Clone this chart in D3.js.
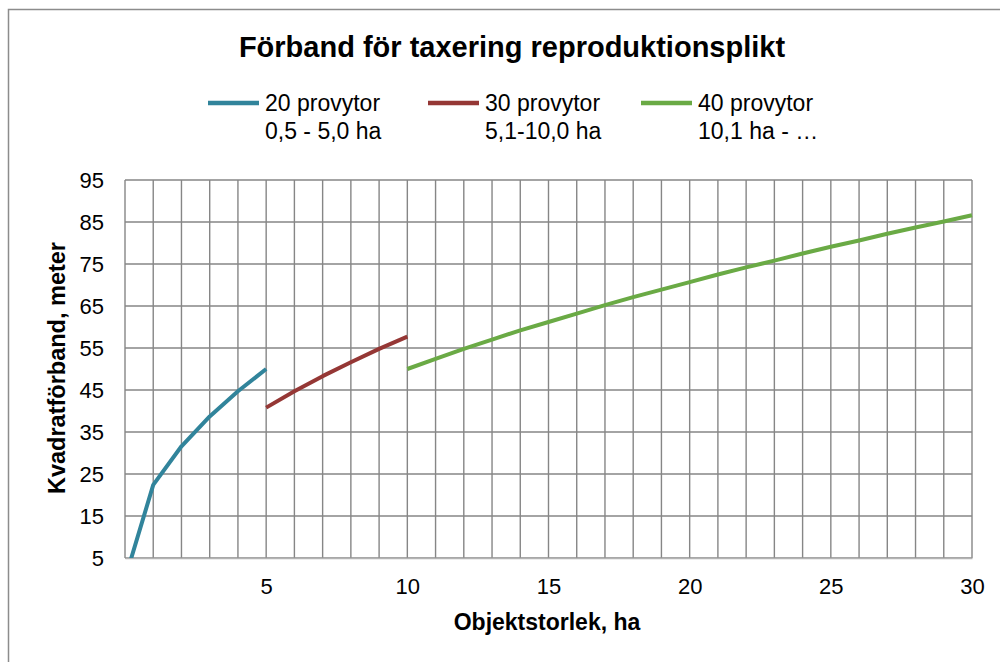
<!DOCTYPE html>
<html>
<head>
<meta charset="utf-8">
<script src="https://cdn.jsdelivr.net/npm/d3@7"></script>
<style>
  body { margin: 0; background: #fff; }
  svg { display: block; font-family: "Liberation Sans", Arial, sans-serif; }
</style>
</head>
<body>
<svg id="chart" width="1000" height="662"></svg>
<script>
// values
const blueX = [0, 1, 2, 3, 4, 5];
const blueY = [0, 22.4, 31.6, 38.7, 44.7, 50.0];
const redX = [5, 6, 7, 8, 9, 10];
const redY = [40.8, 44.7, 48.3, 51.6, 54.8, 57.7];
const greenX = [10, 11, 12, 13, 14, 15, 16, 17, 18, 19, 20, 21, 22, 23, 24, 25, 26, 27, 28, 29, 30];
const greenY = [50.0, 52.4, 54.8, 57.0, 59.2, 61.2, 63.2, 65.2, 67.1, 68.9, 70.7, 72.5, 74.2, 75.8, 77.5, 79.1, 80.6, 82.2, 83.7, 85.1, 86.6];
const seriesNames = [["20 provytor", "0,5 - 5,0 ha"], ["30 provytor", "5,1-10,0 ha"], ["40 provytor", "10,1 ha - …"]];
const seriesColors = ["#31849B", "#953735", "#6AAA45"];
const xTicks = [5, 10, 15, 20, 25, 30];
const yTicks = [5, 15, 25, 35, 45, 55, 65, 75, 85, 95];

(function() {
  const svg = d3.select("#chart");
  const left = 125, right = 972, top = 180, bottom = 558;

  const x = d3.scaleLinear().domain([0, 30]).range([left, right]);
  const y = d3.scaleLinear().domain([5, 95]).range([bottom, top]);

  // chart area border (cut off at right and bottom like the picture)
  svg.append("rect")
    .attr("x", 8.5).attr("y", 9.5)
    .attr("width", 1100).attr("height", 800)
    .attr("fill", "none").attr("stroke", "#8c8c8c").attr("stroke-width", 1.5);

  svg.append("text")
    .attr("x", 512).attr("y", 57)
    .attr("text-anchor", "middle")
    .attr("font-size", 29).attr("font-weight", "bold")
    .text("Förband för taxering reproduktionsplikt");

  // legend
  const legX = [208, 428, 641];
  seriesNames.forEach((lines, i) => {
    const g = svg.append("g").attr("transform", `translate(${legX[i]},0)`);
    g.append("line")
      .attr("x1", 0).attr("x2", 51).attr("y1", 103).attr("y2", 103)
      .attr("stroke", seriesColors[i]).attr("stroke-width", 4.5);
    lines.forEach((t, j) => {
      g.append("text")
        .attr("x", 57).attr("y", 111 + j * 28)
        .attr("font-size", 23)
        .text(t);
    });
  });

  // gridlines
  const grid = svg.append("g").attr("stroke", "#868686").attr("stroke-width", 1.4);
  grid.selectAll("line.v")
    .data(d3.range(0, 31))
    .enter().append("line")
    .attr("x1", d => x(d)).attr("x2", d => x(d))
    .attr("y1", top).attr("y2", bottom);
  grid.selectAll("line.h")
    .data(yTicks)
    .enter().append("line")
    .attr("x1", left).attr("x2", right)
    .attr("y1", d => y(d)).attr("y2", d => y(d));

  // axes
  const xAxis = svg.append("g")
    .attr("transform", `translate(0,${bottom})`)
    .call(d3.axisBottom(x).tickValues(xTicks).tickSize(0).tickPadding(20));
  xAxis.select(".domain").attr("stroke", "#b3b3b3").attr("stroke-width", 1.4);
  xAxis.selectAll("text").attr("font-size", 22).attr("fill", "#000")
    .attr("font-family", "Liberation Sans, Arial, sans-serif");

  const yAxis = svg.append("g")
    .attr("transform", `translate(${left},0)`)
    .call(d3.axisLeft(y).tickValues(yTicks).tickSize(0).tickPadding(21));
  yAxis.select(".domain").remove();
  yAxis.selectAll("text").attr("font-size", 22).attr("fill", "#000")
    .attr("font-family", "Liberation Sans, Arial, sans-serif");

  svg.append("text")
    .attr("x", 547).attr("y", 630)
    .attr("text-anchor", "middle")
    .attr("font-size", 23).attr("font-weight", "bold")
    .text("Objektstorlek, ha");

  svg.append("text")
    .attr("transform", "translate(65,368) rotate(-90)")
    .attr("text-anchor", "middle")
    .attr("font-size", 23.5).attr("font-weight", "bold")
    .text("Kvadratförband, meter");

  // lines, clipped to the plot area
  svg.append("clipPath").attr("id", "plotClip")
    .append("rect")
    .attr("x", left).attr("y", top - 5)
    .attr("width", right - left + 5).attr("height", bottom - top + 5);

  const line = d3.line().x(d => x(d[0])).y(d => y(d[1]));
  const series = [
    d3.zip(blueX, blueY),
    d3.zip(redX, redY),
    d3.zip(greenX, greenY)
  ];
  svg.append("g").attr("clip-path", "url(#plotClip)")
    .selectAll("path")
    .data(series)
    .enter().append("path")
    .attr("d", line)
    .attr("fill", "none")
    .attr("stroke", (d, i) => seriesColors[i])
    .attr("stroke-width", 4)
    .attr("stroke-linejoin", "round");
})();
</script>
</body>
</html>
